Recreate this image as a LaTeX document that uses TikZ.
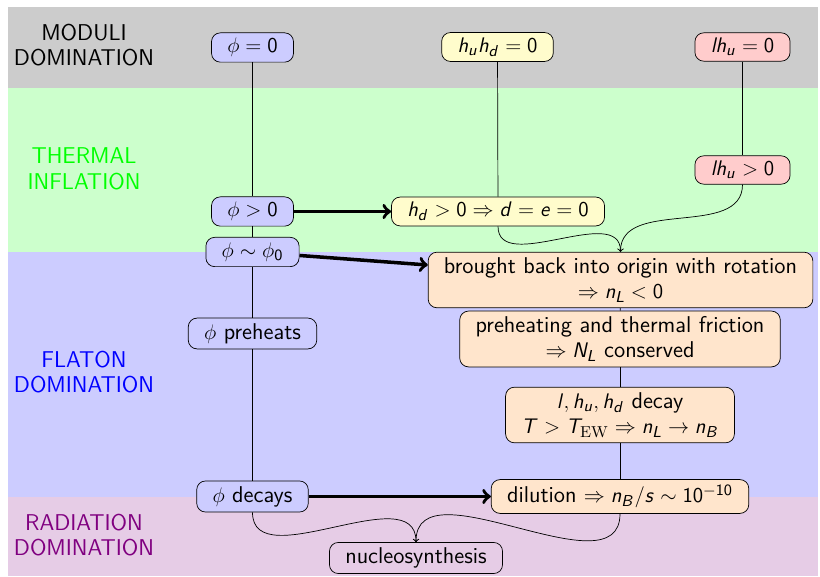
\documentclass[tikz,border=0pt]{standalone}
\usepackage{amsmath}
\usepackage{xcolor}
\usepackage{tikz}
\renewcommand{\familydefault}{\sfdefault}
% sans serif letters and digits in math, greek stays as is
\DeclareSymbolFont{sfletters}{OT1}{cmss}{m}{sl}
\DeclareSymbolFont{sfdigits}{OT1}{cmss}{m}{n}
\DeclareMathSymbol{d}{\mathalpha}{sfletters}{`d}
\DeclareMathSymbol{e}{\mathalpha}{sfletters}{`e}
\DeclareMathSymbol{h}{\mathalpha}{sfletters}{`h}
\DeclareMathSymbol{l}{\mathalpha}{sfletters}{`l}
\DeclareMathSymbol{n}{\mathalpha}{sfletters}{`n}
\DeclareMathSymbol{s}{\mathalpha}{sfletters}{`s}
\DeclareMathSymbol{u}{\mathalpha}{sfletters}{`u}
\DeclareMathSymbol{B}{\mathalpha}{sfletters}{`B}
\DeclareMathSymbol{L}{\mathalpha}{sfletters}{`L}
\DeclareMathSymbol{N}{\mathalpha}{sfletters}{`N}
\DeclareMathSymbol{T}{\mathalpha}{sfletters}{`T}
\DeclareMathSymbol{0}{\mathalpha}{sfdigits}{`0}
\DeclareMathSymbol{1}{\mathalpha}{sfdigits}{`1}
\definecolor{moduligray}{RGB}{204, 204, 204}
\definecolor{thermalgreen}{RGB}{204, 255, 204}
\definecolor{flatonblue}{RGB}{204, 204, 255}
\definecolor{radiationpurple}{RGB}{230, 204, 230}

\begin{document}
\begin{tikzpicture}[font=\fontsize{13}{14.5}\selectfont,
    box/.style={draw, rounded corners=5pt, inner xsep=9pt, inner ysep=3pt, align=center},
    flow/.style={->, line width=2pt},
    era/.style={align=center}]
                    \useasboundingbox (0,0) rectangle (16.4,11.52);
                    % eras, from early to late
                    \fill[moduligray] (0.16,9.76) rectangle (16.36,11.38);
                    \fill[thermalgreen] (0.16,6.48) rectangle (16.36,9.76);
                    \fill[flatonblue] (0.16,1.58) rectangle (16.36,6.48);
                    \fill[radiationpurple] (0.16,0) rectangle (16.36,1.58);
                    \node[era] (moduli) at (1.68,10.62) {MODULI\\DOMINATION};
                    \node[era, text=green] (thermal) at (1.68,8.14) {THERMAL\\INFLATION};
                    \node[era, text=blue] (flaton) at (1.68,4.08) {FLATON\\DOMINATION};
                    \node[era, text=violet] (radiation) at (1.68,0.82) {RADIATION\\DOMINATION};

                    % flaton
                    \node[box, fill=blue!20] (phizero) at (5.05,10.57) {$\phi = 0$};
                    \node[box, fill=blue!20] (phipos) at (5.05,7.29) {$\phi > 0$};
                    \node[box, fill=blue!20] (phiinit) at (5.05,6.48) {$\phi \sim \phi_0$};
                    \node[box, fill=blue!20] (phipre) at (5.05,4.85) {$\phi$ preheats};
                    \node[box, fill=blue!20] (phidec) at (5.05,1.59) {$\phi$ decays};

                    % flat directions
                    \node[box, fill=yellow!20] (hhzero) at (9.95,10.58) {$h_u h_d = 0$};
                    \node[box, fill=yellow!20] (hdpos) at (9.96,7.29) {$h_d > 0 \Rightarrow d = e = 0$};
                    \node[box, fill=red!20] (lhzero) at (14.85,10.58) {$l h_u = 0$};
                    \node[box, fill=red!20] (lhpos) at (14.85,8.12) {$l h_u > 0$};

                    % lepton number
                    \node[box, fill=orange!20] (rotate) at (12.41,5.92) {brought back into origin with rotation\\$\Rightarrow n_L < 0$};
                    \node[box, fill=orange!20] (friction) at (12.4,4.74) {preheating and thermal friction\\$\Rightarrow N_L$ conserved};
                    \node[box, fill=orange!20] (lhdecay) at (12.4,3.22) {$l, h_u, h_d$ decay\\$T > T_{\mathrm{EW}} \Rightarrow n_L \to n_B$};
                    \node[box, fill=orange!20] (dilution) at (12.4,1.59) {dilution $\Rightarrow n_B/s \sim 10^{-10}$};
                    \node[box] (nucleo) at (8.32,0.36) {nucleosynthesis};

                    \draw (phizero) -- (phipos);
                    \draw (phipos) -- (phiinit);
                    \draw (phiinit) -- (phipre);
                    \draw (phipre) -- (phidec);
                    \draw (hhzero) -- (hdpos);
                    \draw (lhzero) -- (lhpos);
                    \draw (rotate) -- (friction);
                    \draw (friction) -- (lhdecay);
                    \draw (lhdecay) -- (dilution);

                    \draw[flow] (phipos) -- (hdpos);
                    \draw[flow] (phiinit) -- ([yshift=0.3cm]rotate.west);
                    \draw[flow] (phidec) -- (dilution);

                    \draw[->] (hdpos.south) to[out=-90, in=90] (rotate.north);
                    \draw[->] (lhpos.south) to[out=-90, in=90] (rotate.north);
                    \draw[->] (phidec.south) to[out=-90, in=90] (nucleo.north);
                    \draw[->] (dilution.south) to[out=-90, in=90] (nucleo.north);
                \end{tikzpicture}
\end{document}
